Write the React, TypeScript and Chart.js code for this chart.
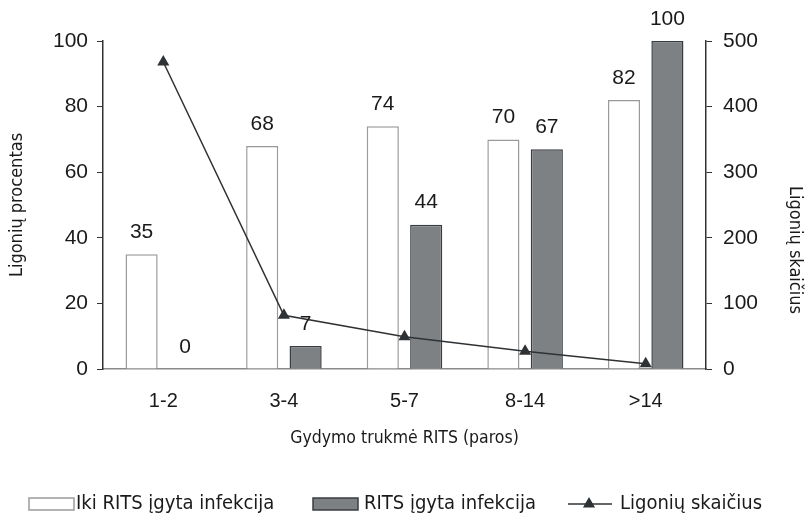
import React, { useEffect, useRef } from "react";
import { Chart, registerables } from "chart.js";

Chart.register(...registerables);

const categories = ["1-2", "3-4", "5-7", "8-14", ">14"];
const ikiRits = [35, 68, 74, 70, 82];
const ritsIgyta = [0, 7, 44, 67, 100];
const ligoniuSkaicius = [468, 82, 49, 27, 8];
const leftTicks = [0, 20, 40, 60, 80, 100];
const rightTicks = [0, 100, 200, 300, 400, 500];

const NUM_FONT = '"Liberation Sans", Arial, sans-serif';
const NARROW_FONT = '"Liberation Sans Narrow", "DejaVu Sans Condensed", "Liberation Sans", sans-serif';

const WHITE_FILL = "#ffffff";
const WHITE_BORDER = "#9a9a9a";
const DARK_FILL = "#7e8184";
const DARK_BORDER = "#3a3d40";
const LINE_COLOR = "#2f3235";

const labelsPlugin = {
  id: "barLabels",
  afterDatasetsDraw(chart: any) {
    const ctx = chart.ctx;
    ctx.save();
    ctx.font = `21px ${NUM_FONT}`;
    ctx.fillStyle = "#1a1a1a";
    ctx.textAlign = "center";
    ctx.textBaseline = "middle";
    [0, 1].forEach((di) => {
      const meta = chart.getDatasetMeta(di);
      const data = chart.data.datasets[di].data;
      meta.data.forEach((el: any, i: number) => {
        ctx.fillText(String(data[i]), el.x, el.y - 22);
      });
    });
    ctx.restore();
  },
};

const extrasPlugin = {
  id: "extras",
  afterDraw(chart: any) {
    const ctx = chart.ctx;
    ctx.save();
    // right axis title
    ctx.font = `18px ${NARROW_FONT}`;
    ctx.fillStyle = "#1a1a1a";
    ctx.textAlign = "center";
    ctx.textBaseline = "middle";
    ctx.translate(795, 250);
    ctx.rotate(Math.PI / 2);
    ctx.fillText("Ligonių skaičius", 0, 0);
    ctx.restore();

    // legend
    ctx.save();
    const ly = 504;
    ctx.font = `20px ${NARROW_FONT}`;
    ctx.textBaseline = "middle";
    ctx.textAlign = "left";
    ctx.lineWidth = 1.5;
    ctx.fillStyle = WHITE_FILL;
    ctx.strokeStyle = WHITE_BORDER;
    ctx.fillRect(29, ly - 6, 45, 12);
    ctx.strokeRect(29, ly - 6, 45, 12);
    ctx.fillStyle = "#1a1a1a";
    ctx.fillText(chart.data.datasets[0].label, 76, ly);

    ctx.fillStyle = DARK_FILL;
    ctx.strokeStyle = DARK_BORDER;
    ctx.fillRect(313, ly - 6, 45, 12);
    ctx.strokeRect(313, ly - 6, 45, 12);
    ctx.fillStyle = "#1a1a1a";
    ctx.fillText(chart.data.datasets[1].label, 364, ly);

    ctx.strokeStyle = LINE_COLOR;
    ctx.beginPath();
    ctx.moveTo(568, ly);
    ctx.lineTo(612, ly);
    ctx.stroke();
    ctx.fillStyle = LINE_COLOR;
    ctx.beginPath();
    const r = 7;
    ctx.moveTo(589, ly - r);
    ctx.lineTo(589 + r * 0.866, ly + r * 0.5);
    ctx.lineTo(589 - r * 0.866, ly + r * 0.5);
    ctx.closePath();
    ctx.fill();
    ctx.fillStyle = "#1a1a1a";
    ctx.fillText(chart.data.datasets[2].label, 620, ly);
    ctx.restore();
  },
};

export default function App() {
  const ref = useRef<HTMLCanvasElement | null>(null);
  useEffect(() => {
    document.body.style.margin = "0";
    const chart = new Chart(ref.current as HTMLCanvasElement, {
      type: "bar",
      data: {
        labels: categories,
        datasets: [
          {
            type: "bar",
            label: "Iki RITS įgyta infekcija",
            data: ikiRits,
            backgroundColor: WHITE_FILL,
            borderColor: WHITE_BORDER,
            borderWidth: 1.5,
            yAxisID: "y",
            order: 2,
            categoryPercentage: 0.72,
            barPercentage: 0.74,
          },
          {
            type: "bar",
            label: "RITS įgyta infekcija",
            data: ritsIgyta,
            backgroundColor: DARK_FILL,
            borderColor: DARK_BORDER,
            borderWidth: 1.5,
            yAxisID: "y",
            order: 2,
            categoryPercentage: 0.72,
            barPercentage: 0.74,
          },
          {
            type: "line",
            label: "Ligonių skaičius",
            data: ligoniuSkaicius,
            borderColor: LINE_COLOR,
            backgroundColor: LINE_COLOR,
            borderWidth: 1.5,
            pointStyle: "triangle",
            pointRadius: 7,
            pointBorderWidth: 0,
            yAxisID: "y1",
            order: 0,
            tension: 0,
          } as any,
        ],
      },
      options: {
        responsive: false,
        animation: false,
        layout: { padding: { top: 41, left: 0, right: 0, bottom: 0 } },
        plugins: {
          legend: { display: false },
          tooltip: { enabled: false },
        },
        scales: {
          x: {
            grid: { display: true, drawOnChartArea: false, drawTicks: false },
            border: { display: true, color: "#8a8a8a", width: 1.5 },
            ticks: { color: "#1a1a1a", font: { size: 20, family: NUM_FONT }, padding: 20 },
            title: {
              display: true,
              text: "Gydymo trukmė RITS (paros)",
              color: "#1a1a1a",
              font: { size: 17.5, family: NARROW_FONT },
              padding: { top: 0, bottom: 69 },
            },
            afterFit: (s: any) => { s.height = 149; },
          },
          y: {
            position: "left",
            min: 0,
            max: 100,
            afterBuildTicks: (s: any) => { s.ticks = leftTicks.map((v) => ({ value: v })); },
            grid: { drawOnChartArea: false, drawTicks: true, tickLength: 6, color: "#333", lineWidth: 1 },
            border: { display: true, color: "#333", width: 1.5 },
            ticks: { color: "#1a1a1a", font: { size: 21, family: NUM_FONT }, padding: 9 },
            title: {
              display: true,
              text: "Ligonių procentas",
              color: "#1a1a1a",
              font: { size: 18, family: NARROW_FONT },
              padding: { top: 7, bottom: 0 },
            },
            afterFit: (s: any) => { s.width = 103; },
          },
          y1: {
            position: "right",
            min: 0,
            max: 500,
            afterBuildTicks: (s: any) => { s.ticks = rightTicks.map((v) => ({ value: v })); },
            grid: { drawOnChartArea: false, drawTicks: true, tickLength: 6, color: "#333", lineWidth: 1 },
            border: { display: true, color: "#333", width: 1.5 },
            ticks: { color: "#1a1a1a", font: { size: 21, family: NUM_FONT }, padding: 11 },
            afterFit: (s: any) => { s.width = 104; },
          },
        },
      },
      plugins: [labelsPlugin, extrasPlugin],
    } as any);
    return () => chart.destroy();
  }, []);
  return (
    <div style={{ width: 810, height: 518 }}>
      <canvas ref={ref} width={810} height={518} />
    </div>
  );
}
